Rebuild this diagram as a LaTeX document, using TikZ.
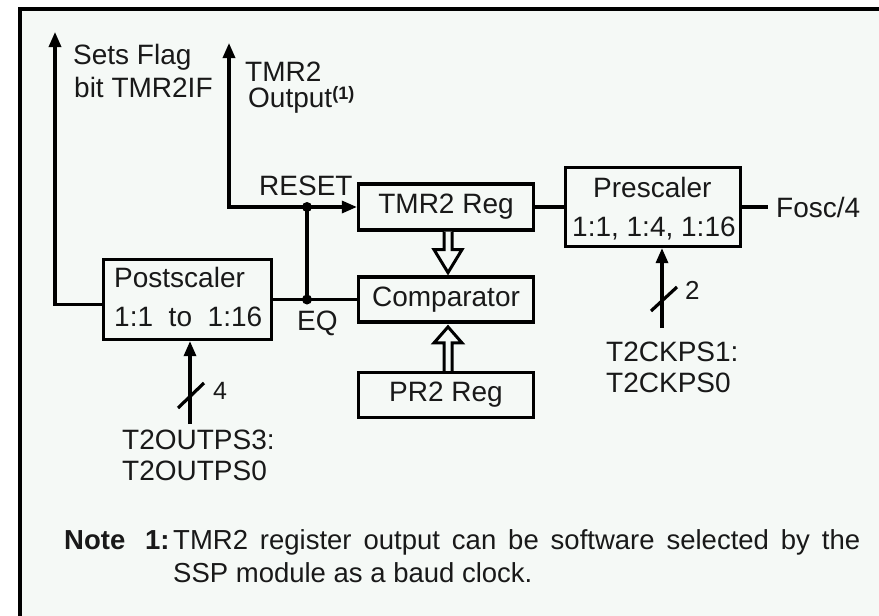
\documentclass[tikz,border=0pt]{standalone}
\usepackage{fontspec}
\setmainfont{Liberation Sans}
\usetikzlibrary{arrows.meta,calc}
\definecolor{bgc}{RGB}{245,249,246}
\definecolor{txt}{RGB}{25,25,25}
\newcommand{\lblfont}{\fontsize{28}{30}\selectfont}
\newcommand{\notefont}{\fontsize{27.5}{30}\selectfont}
\begin{document}
\begin{tikzpicture}[x=1pt,y=-1pt,
  blk/.style={draw,line width=3.2pt,inner sep=0pt,font=\lblfont,text=txt},
  wire/.style={line width=3.2pt},
  arr/.style={wire,-{Triangle[length=15pt,width=12pt]}},
  lab/.style={inner sep=0pt,anchor=base west,font=\lblfont,text=txt},
  hollow/.style={line width=3pt,fill=bgc,line join=miter,miter limit=4}
]
\useasboundingbox (0,0) rectangle (879,616);
\fill[white] (0,0) rectangle (879,616);
\fill[bgc] (20,9) rectangle (879,616);
\draw[line width=4pt,line join=miter] (20,620) -- (20,9) -- (884,9);

% blocks
\node[blk,minimum width=175pt,minimum height=46pt] (tmr) at (446,207) {TMR2 Reg};
\node[blk,minimum width=175pt,minimum height=45pt] (comp) at (446,299.5) {Comparator};
\node[blk,minimum width=175pt,minimum height=45pt] (pr2) at (446,395) {PR2 Reg};
\node[blk,minimum width=175pt,minimum height=79pt] (pre) at (653,207) {};
\node[blk,minimum width=168pt,minimum height=80pt] (post) at (187.5,299.5) {};

% texts in the two-line blocks
\node[lab] (preA) at (593,197) {Prescaler};
\node[lab] (preB) at (572,236) {1:1, 1:4, 1:16};
\node[lab] (postA) at (114,287) {Postscaler};
\node[lab] (postB) at (114,326) {\makebox[148pt][s]{1:1 to 1:16}};

% connection points
\coordinate (jr) at (307,207);
\coordinate (jeq) at (307,299.5);
\coordinate (tout) at (229,43);
\coordinate (flag) at (55,32);
\coordinate (fosc) at (768,207);
\coordinate (psin) at (662,328);
\coordinate (postin) at (190,424);

% wires
\draw[wire] (post.east) -- (comp.west);
\draw[wire] (jeq) -- (jr);
\draw[arr] (jr) -- (tmr.west);
\draw[arr] (jr) -| (tout);
\draw[arr] ($(post.west)+(0,5)$) -| (flag);
\draw[wire] (tmr.east) -- (pre.west);
\draw[wire] (pre.east) -- (fosc);
\draw[arr] (psin) -- (psin |- pre.south);
\draw[arr] (postin) -- (postin |- post.south);
\fill (jr) circle (5);
\fill (jeq) circle (5);

% bus slashes
\draw[wire] (651,311) -- (677,287);
\draw[wire] (178,408) -- (204,383);

% hollow bus arrows
\draw[hollow] ($(tmr.south)+(-2,0)$) -- ($(tmr.south)+(-2,18)$) -- ($(tmr.south)+(-12,18)$)
  -- ($(tmr.south)+(2,41)$) -- ($(tmr.south)+(16,18)$) -- ($(tmr.south)+(6,18)$) -- ($(tmr.south)+(6,0)$);
\draw[hollow] ($(pr2.north)+(-2,0)$) -- ($(pr2.north)+(-2,-28)$) -- ($(pr2.north)+(-12,-28)$)
  -- ($(pr2.north)+(2,-44)$) -- ($(pr2.north)+(16,-28)$) -- ($(pr2.north)+(6,-28)$) -- ($(pr2.north)+(6,0)$);

% labels
\node[lab] (sf1) at (73,64) {Sets Flag};
\node[lab] (sf2) at (74,97) {bit TMR2IF};
\node[lab] (to1) at (245,81) {TMR2};
\node[lab] (to2) at (248,107) {Output\raisebox{8pt}{\fontsize{18}{18}\selectfont\bfseries(1)}};
\node[lab] (rst) at (259,195) {RESET};
\node[lab] (eq) at (297,330) {EQ};
\node[lab] (fo) at (776,217) {Fosc/4};
\node[lab,font=\fontsize{26}{28}\selectfont] (n2) at (685,299) {2};
\node[lab,font=\fontsize{25}{28}\selectfont] (n4) at (213,399) {4};
\node[lab] (ck1) at (606,361) {T2CKPS1:};
\node[lab] (ck0) at (606,392) {T2CKPS0};
\node[lab] (op3) at (122,449) {T2OUTPS3:};
\node[lab] (op0) at (122,480) {T2OUTPS0};

% note
\node[lab,font=\notefont\bfseries] (nt) at (64,549) {Note};
\node[lab,font=\notefont\bfseries] (nt1) at (145,549) {1:};
\node[lab,font=\notefont] (ntA) at (173,549) {\makebox[687pt][s]{TMR2 register output can be software selected by the}};
\node[lab,font=\notefont] (ntB) at (173,582) {SSP module as a baud clock.};
\end{tikzpicture}
\end{document}
